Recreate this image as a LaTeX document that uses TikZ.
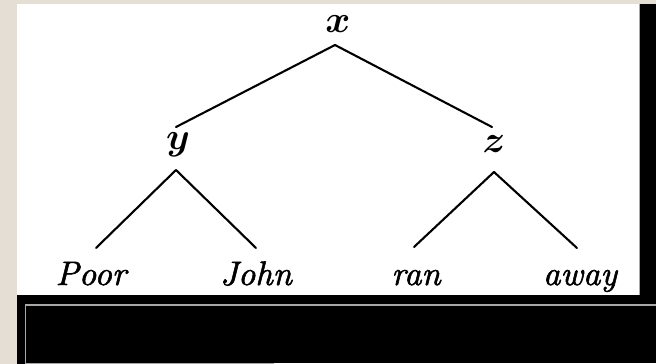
\RequirePackage{fix-cm}
\documentclass[tikz,border=0pt]{standalone}
\usepackage{fontspec}
\newfontfamily\heavyit{lmroman10-italic.otf}[FakeBold=1.6]
\definecolor{beige}{HTML}{E4DED4}
\definecolor{edgegray}{HTML}{A8A8A8}
\tikzset{
  lab/.style={anchor=base,inner sep=0pt,font=\fontsize{38}{44}\selectfont\boldmath},
  word/.style={anchor=base,inner sep=0pt,font=\fontsize{34}{40}\selectfont\heavyit},
  branch/.style={line width=2.1pt,line cap=round}
}
\begin{document}
\begin{tikzpicture}[x=1pt,y=-1pt]
\useasboundingbox (0,0) rectangle (656,364);
% backgrounds
\fill[beige] (0,0) rectangle (656,364);
\fill[white] (17,4) rectangle (639,295);
\fill[black] (639.5,4) rectangle (656,364);
\draw[edgegray,line width=0.8pt] (639,4) -- (639,295);
\fill[black] (17,295) rectangle (656,364);
\draw[edgegray,line width=1.2pt] (660,305) -- (25.5,305) -- (25.5,363.2) -- (274,363.2);
\fill[white] (274,362.6) rectangle (656,364);
% labels
\node[lab] (x) at (338,32) {$x$};
\node[lab] (y) at (178,149) {$y$};
\node[lab] (z) at (494,152) {$z$};
\node[word] (poor) at (91,285) {Poor};
\node[word] (john) at (256,285) {John};
\node[word] (ran) at (416,285) {ran};
\node[word] (away) at (580,285) {away};
% branches
\draw[branch] ([xshift=-3pt,yshift=-13pt]x.base) -- ([xshift=-2pt,yshift=22pt]y.base);
\draw[branch] ([xshift=-3pt,yshift=-13pt]x.base) -- ([xshift=-2pt,yshift=25pt]z.base);
\draw[branch] ([xshift=-2pt,yshift=-21pt]y.base) -- ([xshift=5pt,yshift=37pt]poor.base);
\draw[branch] ([xshift=-2pt,yshift=-21pt]y.base) -- ([xshift=0pt,yshift=37pt]john.base);
\draw[branch] ([xshift=0pt,yshift=-20pt]z.base) -- ([xshift=-2pt,yshift=38pt]ran.base);
\draw[branch] ([xshift=0pt,yshift=-20pt]z.base) -- ([xshift=-3pt,yshift=37pt]away.base);
\end{tikzpicture}
\end{document}
